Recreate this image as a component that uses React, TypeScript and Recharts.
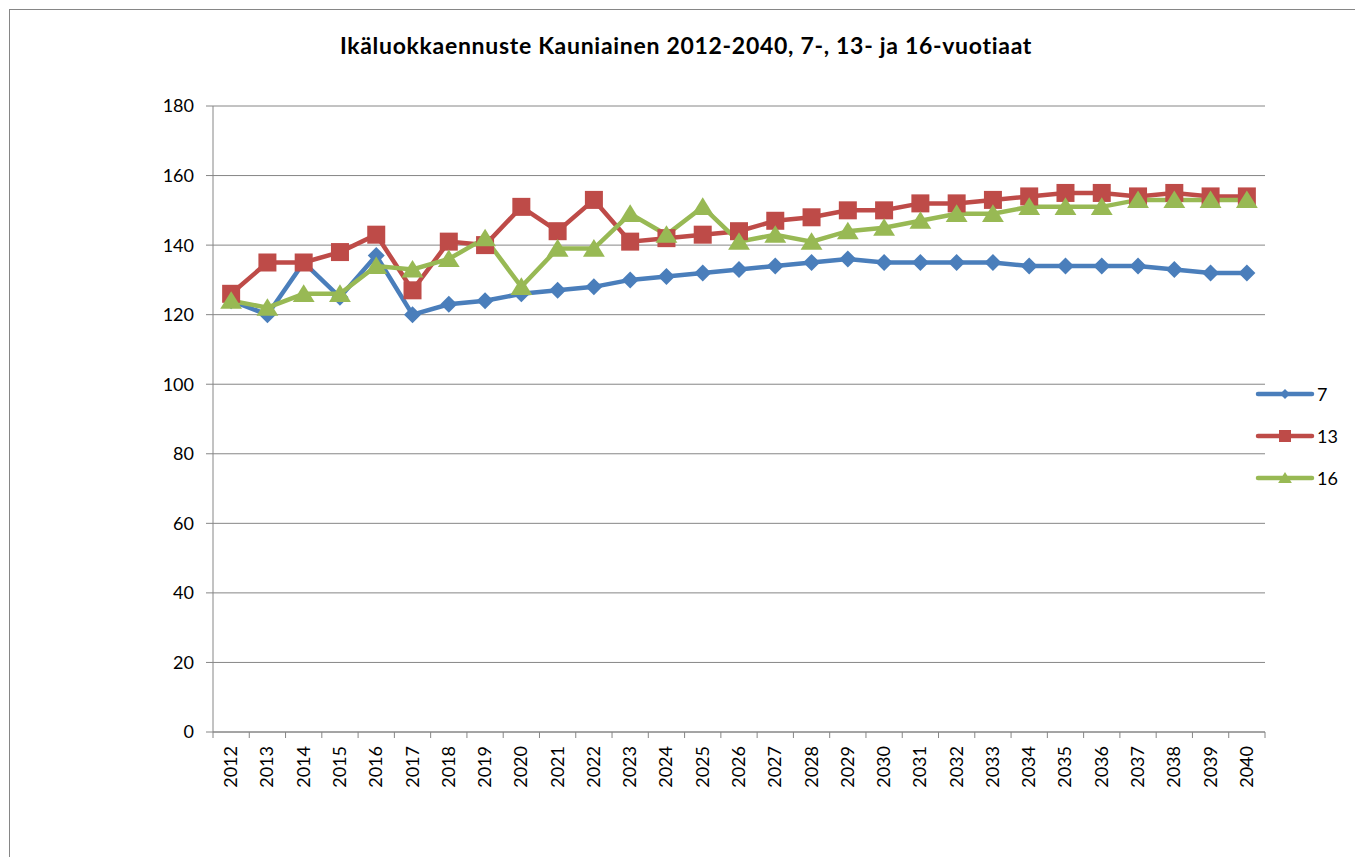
import React from 'react';
import { LineChart, Line, XAxis, YAxis, CartesianGrid } from 'recharts';

const YEARS = [
  '2012', '2013', '2014', '2015', '2016', '2017', '2018', '2019', '2020', '2021',
  '2022', '2023', '2024', '2025', '2026', '2027', '2028', '2029', '2030', '2031',
  '2032', '2033', '2034', '2035', '2036', '2037', '2038', '2039', '2040',
];
const AGE_7 = [
  124, 120, 135, 125, 137, 120, 123, 124, 126, 127,
  128, 130, 131, 132, 133, 134, 135, 136, 135, 135,
  135, 135, 134, 134, 134, 134, 133, 132, 132,
];
const AGE_13 = [
  126, 135, 135, 138, 143, 127, 141, 140, 151, 144,
  153, 141, 142, 143, 144, 147, 148, 150, 150, 152,
  152, 153, 154, 155, 155, 154, 155, 154, 154,
];
const AGE_16 = [
  124, 122, 126, 126, 134, 133, 136, 142, 128, 139,
  139, 149, 143, 151, 141, 143, 141, 144, 145, 147,
  149, 149, 151, 151, 151, 153, 153, 153, 153,
];
const Y_TICKS = [0, 20, 40, 60, 80, 100, 120, 140, 160, 180];
const SERIES_NAMES = ['7', '13', '16'];
const TITLE = 'Ikäluokkaennuste Kauniainen 2012-2040, 7-, 13- ja 16-vuotiaat';

const BLUE = '#4A7EBB';
const RED = '#BE4B48';
const GREEN = '#98B954';
const AXIS = '#868686';
const FONT = 'Lato, "Open Sans", sans-serif';

// plot area in page pixels
const PLOT_LEFT = 213;
const PLOT_RIGHT = 1265;
const PLOT_TOP = 106;
const PLOT_BOTTOM = 732;
const W = 1355;
const H = 857;
const BAND = (PLOT_RIGHT - PLOT_LEFT) / YEARS.length;

const data = YEARS.map((year, i) => ({
  year,
  a7: AGE_7[i],
  a13: AGE_13[i],
  a16: AGE_16[i],
}));

type Shape = 'diamond' | 'square' | 'triangle';

function marker(shape: Shape, cx: number, cy: number, color: string, s: number, key?: string) {
  if (shape === 'diamond') {
    return (
      <path
        key={key}
        d={`M${cx},${cy - s}L${cx + s},${cy}L${cx},${cy + s}L${cx - s},${cy}Z`}
        fill={color}
      />
    );
  }
  if (shape === 'square') {
    return <rect key={key} x={cx - s} y={cy - s} width={s * 2} height={s * 2} fill={color} />;
  }
  return (
    <path
      key={key}
      d={`M${cx},${cy - s}L${cx + s * 1.15},${cy + s * 0.85}L${cx - s * 1.15},${cy + s * 0.85}Z`}
      fill={color}
    />
  );
}

const makeDot = (shape: Shape, color: string, s: number) => (props: any) => {
  const { cx, cy, index } = props;
  if (cx == null || cy == null) return <g key={`e-${index}`} />;
  return marker(shape, cx, cy, color, s, `d-${shape}-${index}`);
};

function YearTick(props: any) {
  const { x, y, payload, index } = props;
  const last = index === YEARS.length - 1;
  return (
    <g>
      <line x1={x - BAND / 2} x2={x - BAND / 2} y1={y} y2={y + 6} stroke={AXIS} />
      {last && <line x1={x + BAND / 2} x2={x + BAND / 2} y1={y} y2={y + 6} stroke={AXIS} />}
      <text
        x={0}
        y={0}
        transform={`translate(${x + 6}, ${y + 14}) rotate(-90)`}
        textAnchor="end"
        fontSize={18}
        fontFamily={FONT}
        fill="#000"
      >
        {payload.value}
      </text>
    </g>
  );
}

const LEGEND_ITEMS: { name: string; color: string; shape: Shape; s: number }[] = [
  { name: SERIES_NAMES[0], color: BLUE, shape: 'diamond', s: 5 },
  { name: SERIES_NAMES[1], color: RED, shape: 'square', s: 6 },
  { name: SERIES_NAMES[2], color: GREEN, shape: 'triangle', s: 6 },
];

export default function App() {
  return (
    <div
      style={{
        position: 'absolute',
        left: 0,
        top: 0,
        width: W,
        height: H,
        overflow: 'hidden',
        background: '#fff',
      }}
    >
      <div
        style={{
          position: 'absolute',
          left: 9,
          top: 9,
          width: 1400,
          height: 900,
          border: `1px solid ${AXIS}`,
        }}
      />
      <div
        style={{
          position: 'absolute',
          left: 0,
          width: 1372,
          top: 31,
          textAlign: 'center',
          fontFamily: FONT,
          fontWeight: 700,
          fontSize: 23,
          letterSpacing: 0.7,
          whiteSpace: 'nowrap',
        }}
      >
        {TITLE}
      </div>
      <div style={{ position: 'absolute', left: 0, top: 0 }}>
        <LineChart
          width={W}
          height={H}
          data={data}
          margin={{ top: PLOT_TOP, right: W - PLOT_RIGHT, left: PLOT_LEFT - 60, bottom: H - PLOT_BOTTOM - 60 }}
        >
          <CartesianGrid vertical={false} stroke={AXIS} strokeWidth={1} />
          <XAxis
            dataKey="year"
            height={60}
            interval={0}
            padding={{ left: BAND / 2, right: BAND / 2 }}
            axisLine={{ stroke: AXIS }}
            tickLine={false}
            tickSize={0}
            tickMargin={0}
            tick={<YearTick />}
          />
          <YAxis
            width={60}
            domain={[0, 180]}
            ticks={Y_TICKS}
            interval={0}
            axisLine={{ stroke: AXIS }}
            tickLine={{ stroke: AXIS }}
            tickSize={7}
            tickMargin={12}
            tick={{ fontSize: 18, fontFamily: FONT, fill: '#000' }}
          />
          <Line
            dataKey="a7"
            name={SERIES_NAMES[0]}
            stroke={BLUE}
            strokeWidth={4.5}
            dot={makeDot('diamond', BLUE, 8.5)}
            activeDot={false}
            isAnimationActive={false}
          />
          <Line
            dataKey="a13"
            name={SERIES_NAMES[1]}
            stroke={RED}
            strokeWidth={4.5}
            dot={makeDot('square', RED, 9)}
            activeDot={false}
            isAnimationActive={false}
          />
          <Line
            dataKey="a16"
            name={SERIES_NAMES[2]}
            stroke={GREEN}
            strokeWidth={4.5}
            dot={makeDot('triangle', GREEN, 9.5)}
            activeDot={false}
            isAnimationActive={false}
          />
        </LineChart>
      </div>
      {LEGEND_ITEMS.map((item, i) => (
        <div
          key={item.name}
          style={{
            position: 'absolute',
            left: 1255,
            top: 381 + i * 42,
            height: 26,
            display: 'flex',
            alignItems: 'center',
            fontFamily: FONT,
            fontSize: 18,
          }}
        >
          <svg width={60} height={26}>
            <line x1={3} x2={57} y1={13} y2={13} stroke={item.color} strokeWidth={4.5} strokeLinecap="round" />
            {marker(item.shape, 30, 13, item.color, item.s)}
          </svg>
          <span style={{ marginLeft: 2 }}>{item.name}</span>
        </div>
      ))}
    </div>
  );
}
